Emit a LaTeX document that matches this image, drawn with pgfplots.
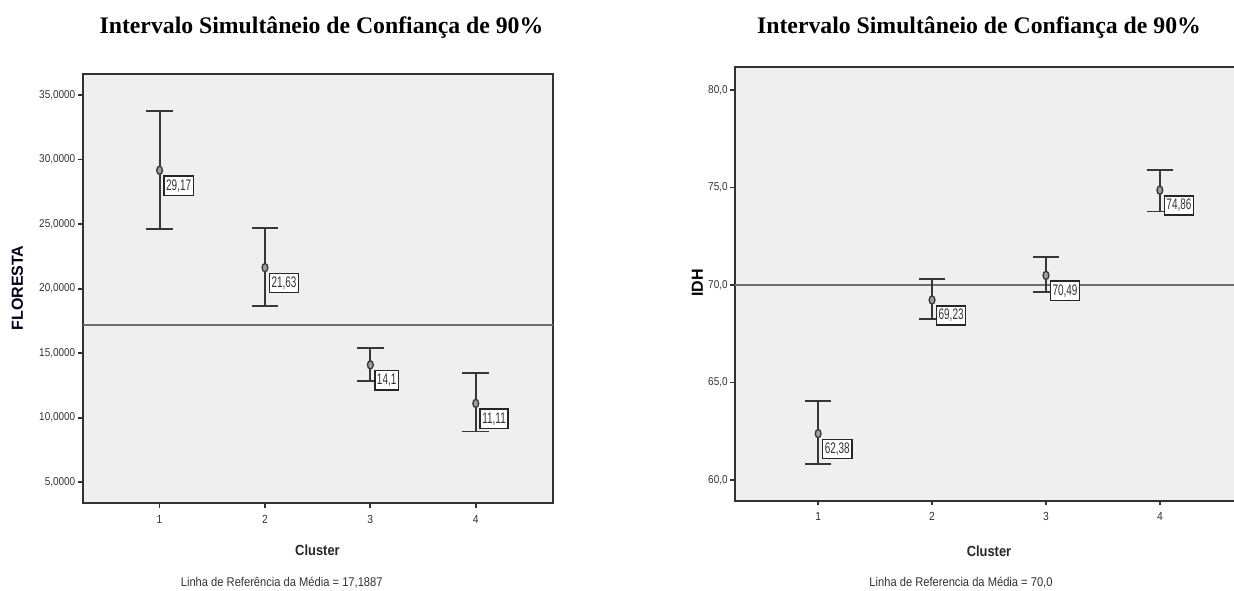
\documentclass[border=0pt]{standalone}
\usepackage{pgfplots}
\usepackage{pgfplotstable}
\pgfplotsset{compat=1.18}
\usepackage{fontspec}
\setmainfont{Liberation Sans}
\newfontfamily\titlefont{Liberation Serif}
\newfontfamily\nar[FakeStretch=0.88]{Liberation Sans}
\newfontfamily\narr[FakeStretch=0.65]{Liberation Sans}
\definecolor{bgplot}{RGB}{239,239,239}
\definecolor{framec}{RGB}{50,50,50}
\definecolor{barc}{RGB}{55,55,55}
\definecolor{refc}{RGB}{110,110,110}

\pgfplotstableread{
x y ep em lab
1 29.17 4.57 4.56 29,17
2 21.63 3.08 3.00 21,63
3 14.10 1.33 1.27 14,1
4 11.11 2.37 2.17 11,11
}\floresta

\pgfplotstableread{
x y ep em lab
1 62.38 1.65 1.55 62,38
2 69.23 1.06 0.97 69,23
3 70.49 0.96 0.85 70,49
4 74.86 1.03 1.09 74,86
}\idh

\pgfplotsset{
  spss/.style={
    scale only axis,
    anchor=south west,
    axis background/.style={fill=bgplot},
    axis line style={line width=1.4pt, draw=framec},
    tick pos=left,
    tick align=outside,
    major tick length=3.5pt,
    every tick/.style={line width=1.3pt, draw=framec},
    xtick={1,2,3,4},
    xticklabels={1,2,3,4},
    xmin=0.27, xmax=4.73,
    tick label style={font=\nar\fontsize{8.5}{9}\selectfont, text=black!80},
    xticklabel style={font=\nar\fontsize{8.8}{10}\selectfont, yshift=-2pt},
    yticklabel style={xshift=1.5pt},
    clip=false,
  },
  cibar/.style={
    only marks,
    mark=*,
    mark size=3.1pt,
    mark options={fill=gray!75, draw=barc, line width=1pt, xscale=0.7},
    error bars/.cd,
      y dir=both, y explicit,
      error bar style={line width=1.4pt, draw=barc},
      error mark=|,
      error mark options={line width=1.4pt, draw=barc, mark size=10pt},
  },
  lbl/.style={
    nodes near coords,
    point meta=explicit symbolic,
    every node near coord/.append style={
      anchor=north west, xshift=2.8pt, yshift=-3.8pt,
      draw=black!85, fill=white, line width=1.1pt,
      font=\narr\fontsize{11.5}{12}\selectfont, text=black!80,
      inner xsep=1.6pt, inner ysep=2.3pt, text height=8.2pt, text depth=1.6pt
    },
  },
}

\begin{document}
\begin{tikzpicture}
\useasboundingbox (0,0) rectangle (925.5pt,442.5pt);

% ---------- left chart ----------
\begin{axis}[spss,
  at={(62.0pt,65.0pt)},
  width=352.5pt, height=322pt,
  ymin=3.37, ymax=36.63,
  ytick={5,10,15,20,25,30,35},
  yticklabels={{5,0000},{10,0000},{15,0000},{20,0000},{25,0000},{30,0000},{35,0000}},
]
\addplot[refc, line width=1.7pt, no marks] coordinates {(0.27,17.1887) (4.73,17.1887)};
\addplot[cibar] table[x=x, y=y, y error plus=ep, y error minus=em] {\floresta};
\addplot[only marks, mark=none, lbl] table[x=x, y=y, meta=lab] {\floresta};
\end{axis}

% ---------- right chart ----------
\begin{axis}[spss,
  at={(551.25pt,66.97pt)},
  width=381pt, height=325.5pt,
  ymin=58.94, ymax=81.19,
  ytick={60,65,70,75,80},
  yticklabels={{60,0},{65,0},{70,0},{75,0},{80,0}},
]
\addplot[refc, line width=1.7pt, no marks] coordinates {(0.27,70.0) (4.73,70.0)};
\addplot[cibar] table[x=x, y=y, y error plus=ep, y error minus=em] {\idh};
\addplot[only marks, mark=none, lbl] table[x=x, y=y, meta=lab] {\idh};
\end{axis}

% ---------- titles and labels ----------
\node[anchor=base, font=\titlefont\bfseries\fontsize{17.8}{20}\selectfont] at (241.1pt,417pt) {Intervalo Simultâneio de Confiança de 90\%};
\node[anchor=base, font=\titlefont\bfseries\fontsize{17.8}{20}\selectfont] at (734.25pt,417pt) {Intervalo Simultâneio de Confiança de 90\%};

\node[rotate=90, font=\bfseries\fontsize{12}{14}\selectfont, text=black!90!blue] at (13.1pt,226.5pt) {FLORESTA};
\node[rotate=90, font=\bfseries\fontsize{12}{14}\selectfont] at (523.1pt,230.25pt) {IDH};

\node[anchor=base, font=\nar\bfseries\fontsize{11}{13}\selectfont, text=black!85] at (238.1pt,26.25pt) {Cluster};
\node[anchor=base, font=\nar\bfseries\fontsize{11}{13}\selectfont, text=black!85] at (741.75pt,25.5pt) {Cluster};

\node[anchor=base, font=\nar\fontsize{9.5}{11}\selectfont, text=black!80] at (211.3pt,2.6pt) {Linha de Referência da Média = 17,1887};
\node[anchor=base, font=\nar\fontsize{9.5}{11}\selectfont, text=black!80] at (720.75pt,2.6pt) {Linha de Referencia da Média = 70,0};
\end{tikzpicture}
\end{document}
